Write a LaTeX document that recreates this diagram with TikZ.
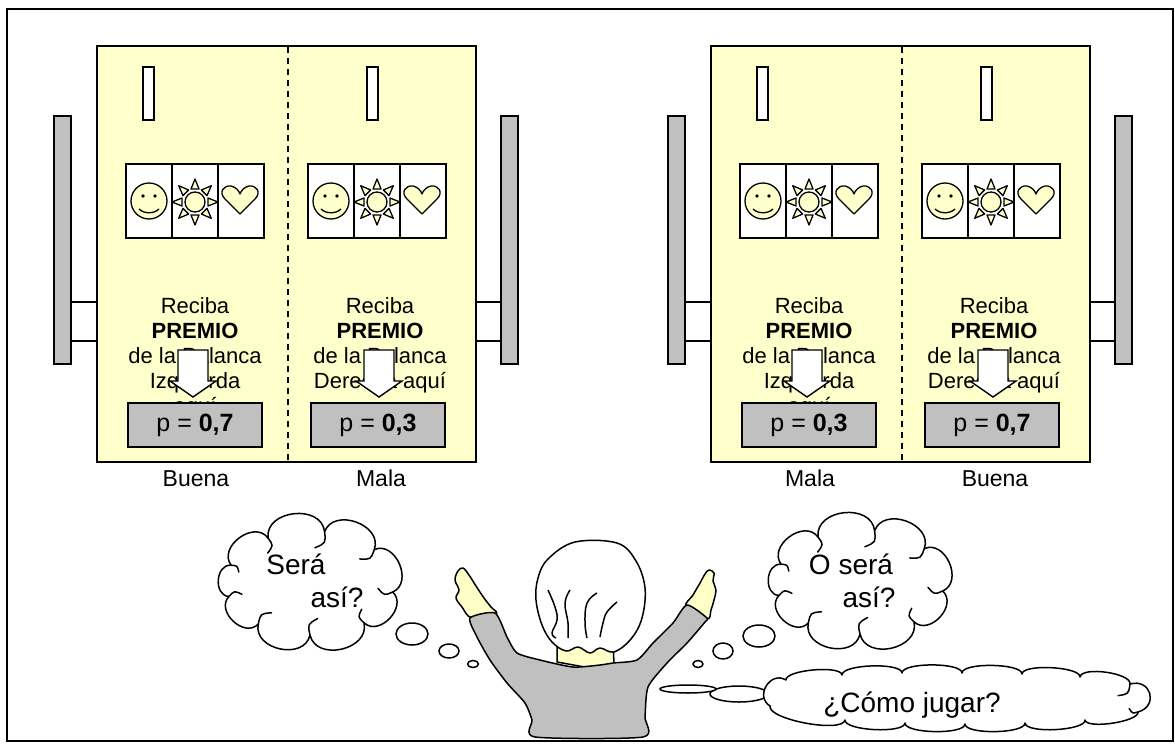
\documentclass[tikz,border=0pt]{standalone}
\usepackage{fontspec}
\setmainfont{Liberation Sans}
\usetikzlibrary{calc}

\definecolor{panelyellow}{HTML}{FFFFCC}
\definecolor{leverGray}{HTML}{C0C0C0}
\definecolor{skin}{HTML}{FFFFC8}

\tikzset{
  outline/.style={draw=black, line width=1.8pt},
  panel/.style={outline, fill=panelyellow},
  leverbar/.style={outline, fill=leverGray},
  hinge/.style={outline, fill=white},
  slotbox/.style={draw=black, line width=1.5pt, fill=white},
  reel/.style={draw=black, line width=1.5pt, fill=white},
  icon/.style={draw=black, line width=1.3pt, fill=panelyellow, line join=round},
  blockarrow/.style={draw=black, line width=1.4pt, fill=white, line join=miter},
  machinetext/.style={font=\fontsize{22}{25}\selectfont, align=center, inner sep=0pt},
  labeltext/.style={font=\fontsize{23}{25}\selectfont, inner sep=0pt, anchor=base},
  pbox/.style={draw=black, line width=1.5pt, fill=leverGray, minimum width=134pt,
    minimum height=44pt, inner sep=0pt, font=\fontsize{25}{28}\selectfont},
  cloudline/.style={draw=black, line width=1.5pt, fill=white, line join=round, line cap=round},
  bubble/.style={draw=black, line width=1.5pt, fill=white},
  thinktext/.style={font=\fontsize{28}{32}\selectfont, inner sep=0pt, anchor=base},
  figure/.style={draw=black, line width=1.5pt, line join=round},
}

% one slot machine: #1 name prefix, #2 horizontal offset,
% #3/#4 probabilities, #5/#6 labels under the two halves
\newcommand\slotmachine[6]{%
\begin{scope}[shift={(#2,0)}]
  % levers on both sides
  \draw[hinge] (71,302) rectangle (97,341);
  \draw[leverbar] (54,116) rectangle (71,364);
  \draw[hinge] (476,302) rectangle (501,341);
  \draw[leverbar] (501,116) rectangle (518,364);
  % cabinet
  \draw[panel] (97,46) rectangle (476,462);
  \draw[line width=1.5pt, dash pattern=on 6pt off 5pt] (288,47) -- (288,461);
  % coin slots
  \draw[slotbox] (143,67) rectangle (154,120);
  \draw[slotbox] (367,67) rectangle (378,120);
  % reels with their symbols
  \foreach \r in {0,182}{
    \begin{scope}[shift={(\r,0)}]
      \draw[reel] (126,164) rectangle (264,238);
      \draw[line width=1.5pt] (172,164) -- (172,238) (218,164) -- (218,238);
      % smiley
      \draw[icon] (149,201) circle (18pt);
      \fill (143,196) circle (1.8pt) (155,196) circle (1.8pt);
      \draw[line width=1.3pt] (139,209) .. controls (144,214) and (154,214) .. (159,209);
      % sun
      \foreach \a in {0,45,...,315}{
        \draw[icon, rotate around={\a:(195,202)}]
          (191,189) -- (195,179) -- (199,189) -- cycle;
      }
      \draw[icon] (195,202) circle (10pt);
      % heart
      \draw[icon] (240,214) -- (225,199) .. controls (218,192) and (224,185) .. (231,186)
        .. controls (236,187) and (239,191) .. (240,194)
        .. controls (241,191) and (244,187) .. (249,186)
        .. controls (256,185) and (262,192) .. (255,199) -- cycle;
    \end{scope}
  }
  % instructions
  \node[machinetext, anchor=north] (#1ta) at (195,297)
    {Reciba\\\textbf{PREMIO}\\de la Palanca\\Izquierda\\aquí};
  \node[machinetext, anchor=north] (#1tb) at (380,297)
    {Reciba\\\textbf{PREMIO}\\de la Palanca\\Derecha aquí};
  % pointing arrows
  \foreach \c in {193,379}{
    \draw[blockarrow, shift={(\c,0)}] (-15,350) -- (15,350) -- (15,381) -- (23,381)
      -- (0,397) -- (-23,381) -- (-15,381) -- cycle;
  }
  % probabilities
  \node[pbox] (#1pa) at (195,425) {p = \textbf{#3}};
  \node[pbox] (#1pb) at (378,425) {p = \textbf{#4}};
  % labels
  \node[labeltext] (#1la) at (196,486) {#5};
  \node[labeltext] (#1lb) at (381,486) {#6};
\end{scope}}

% puffy cloud through the joints x/y, each puff with its own bulge k;
% joints go clockwise on the page; #3 lists the joints that get an inner curl
\newcommand\thoughtcloud[3]{%
  \foreach \px/\py/\pk [count=\n] in {#2} {
    \coordinate (#1-\n) at (\px,\py);
    \expandafter\xdef\csname cb#1-\n\endcsname{\pk}
    \xdef\cloudcount{\n}
  }
  \draw[cloudline] (#1-1)
    \foreach \i [evaluate=\i as \j using {int(mod(\i,\cloudcount)+1)}] in {1,...,\cloudcount} {
      .. controls ($(#1-\i)!\csname cb#1-\i\endcsname!90:(#1-\j)$)
             and ($(#1-\j)!\csname cb#1-\i\endcsname!-90:(#1-\i)$) .. (#1-\j)
    } -- cycle;
  \foreach \i [evaluate=\i as \j using {int(mod(\i,\cloudcount)+1)}] in {#3} {
    \draw[cloudline, fill=none] (#1-\j)
      .. controls ($(#1-\j)!0.2!90:(#1-\i)$)
      .. ($(#1-\j)!0.26!90:(#1-\i) + 0.2*(#1-\i) - 0.2*(#1-\j)$);
  }
}

\begin{document}
\begin{tikzpicture}[x=1pt, y=-1pt]
  \useasboundingbox (0,0) rectangle (1175,744);
  \fill[white] (0,0) rectangle (1175,744);
  \draw[line width=1.6pt] (7,9) rectangle (1173,741);

  \slotmachine{m1}{0}{0,7}{0,3}{Buena}{Mala}
  \slotmachine{m2}{614}{0,3}{0,7}{Mala}{Buena}

  % first thought
  \thoughtcloud{c1}{392.7/592/0.5, 364/622.8/0.5, 310/635/0.5, 258.3/624/0.5,
    228.9/596.5/0.5, 231.1/565.2/0.5, 268/538/0.5, 324.6/531.8/0.5, 374.3/549.6/0.5}
    {1,2,3,4,5,6,7,8,9}
  \node[thinktext] (t1a) at (296,574) {Será};
  \node[thinktext] (t1b) at (337,607) {así?};
  \draw[bubble] (412,634) ellipse [x radius=16pt, y radius=11pt];
  \draw[bubble] (449,651) ellipse [x radius=10pt, y radius=7pt];
  \draw[bubble] (473,664) ellipse [x radius=5.5pt, y radius=3.5pt];

  % second thought
  \thoughtcloud{c2}{942.7/591/0.5, 914/621.8/0.5, 860/634/0.5, 808.3/623/0.5,
    778.9/595.5/0.5, 781.1/564.2/0.5, 818/537/0.5, 874.6/530.8/0.5, 924.3/548.6/0.5}
    {1,2,3,4,5,6,7,8,9}
  \node[thinktext] (t2a) at (851,574) {O será};
  \node[thinktext] (t2b) at (869,607) {así?};
  \draw[bubble] (759,636) ellipse [x radius=16pt, y radius=11pt];
  \draw[bubble] (723,651) ellipse [x radius=10pt, y radius=8pt];
  \draw[bubble] (698,664) ellipse [x radius=5pt, y radius=3.5pt];

  % the long flat thought
  \draw[bubble] (739,694) ellipse [x radius=29pt, y radius=8pt];
  \draw[bubble] (688,689) ellipse [x radius=28pt, y radius=4pt];
  \thoughtcloud{c3}{770/706/0.6, 786/680/0.18, 842/675/0.18, 902/673/0.18,
    962/673/0.18, 1022/674/0.18, 1080/677/0.22, 1130/684/0.75, 1138/712/0.18,
    1085/720/0.18, 1025/723/0.18, 965/724/0.18, 905/723/0.18, 845/720/0.18}
    {7,8}
  \node[thinktext] (t3) at (912,712) {¿Cómo jugar?};

  % the player, seen from behind
  \draw[figure, fill=skin] plot[smooth cycle, tension=0.6] coordinates {
    (472,618) (462,607) (456,598) (459,590) (455,580) (458,571) (463,568)
    (469,575) (476,586) (484,598) (491,607) (496,614)};
  \draw[figure, fill=skin] plot[smooth cycle, tension=0.6] coordinates {
    (686,607) (693,595) (700,583) (705,574) (709,570) (714,573) (713,581)
    (716,590) (714,600) (711,610) (707,619)};
  \draw[figure, fill=skin] (557,640) -- (613,640) -- (614,664) -- (590,668) -- (557,662) -- cycle;
  \draw[figure, fill=leverGray] plot[smooth cycle, tension=0.4] coordinates {
    (470,618) (477,637) (490,660) (507,683) (525,703) (532,720) (535,737)
    (643,737) (645,717) (648,687) (667,663) (687,643) (705,622) (707,618)
    (687,605) (673,623) (653,643) (637,660) (613,663) (600,665) (573,667)
    (540,660) (517,653) (507,637) (495,613)};
  \draw[figure, fill=white] plot[smooth cycle, tension=0.6] coordinates {
    (575,542) (617,543) (636,561) (645,588) (642,618) (631,639) (614,652)
    (600,648) (590,653) (578,647) (566,651) (552,642) (542,625) (536,600)
    (538,578) (548,559)};
  \draw[figure] plot[smooth, tension=0.7] coordinates {(548,590) (555,607) (557,620) (552,633) (556,638)};
  \draw[figure] plot[smooth, tension=0.7] coordinates {(570,590) (565,603) (568,623) (568,638)};
  \draw[figure] plot[smooth, tension=0.7] coordinates {(597,593) (587,603) (585,623) (587,638)};
  \draw[figure] plot[smooth, tension=0.7] coordinates {(617,602) (607,612) (603,623) (600,637)};
\end{tikzpicture}
\end{document}
